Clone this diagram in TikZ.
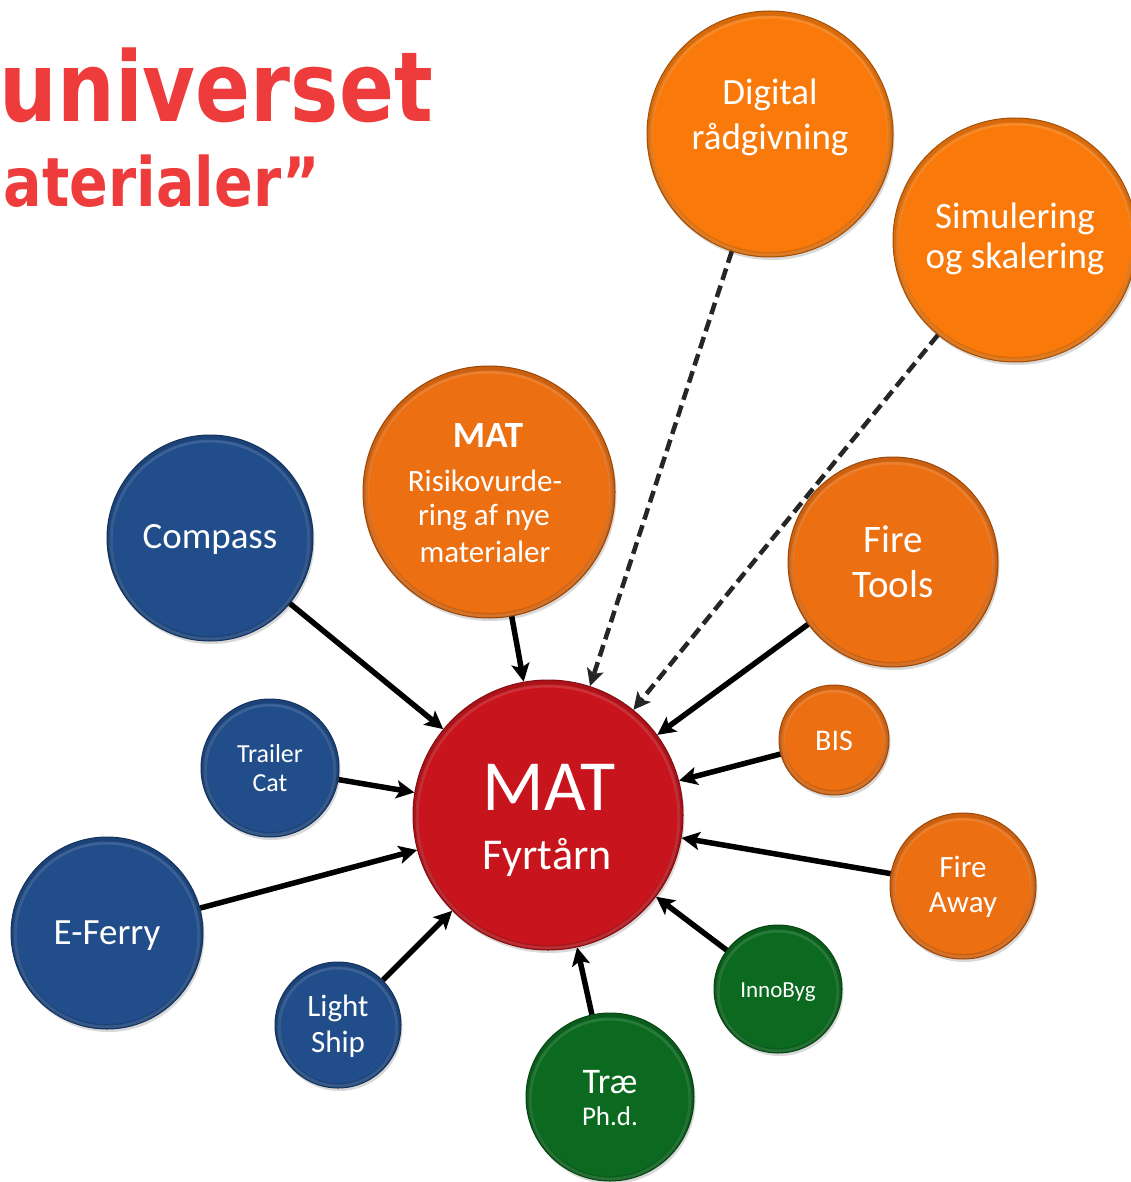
\documentclass[tikz,border=0pt]{standalone}
\usepackage{fontspec}
\setmainfont{Carlito}
\newfontfamily\titlefont{DejaVu Sans}
\usetikzlibrary{arrows.meta,shadows}
\definecolor{matred}{HTML}{C8151D}
\definecolor{orgA}{HTML}{EC6F11}
\definecolor{orgB}{HTML}{F97A0B}
\definecolor{blu}{HTML}{214D8B}
\definecolor{grn}{HTML}{0B6A1F}
\definecolor{ttlred}{HTML}{EE3B3B}
\definecolor{dashgrey}{HTML}{262626}
\tikzset{
  bubble/.style 2 args={circle, inner sep=0pt, minimum size=2*#2, fill=#1,
    draw=#1!65!black, line width=1pt,
    drop shadow={opacity=0.3, shadow xshift=1.5pt, shadow yshift=-3pt},
    path picture={\draw[black, opacity=0.13, line width=5pt]
      (path picture bounding box.center) circle[radius=#2-2.5pt];
      \draw[white, opacity=0.12, line width=3pt]
      ([yshift=-2pt]path picture bounding box.center) circle[radius=#2-4pt];}},
  txt/.style={text=white, inner sep=0pt, anchor=base},
  ttl/.style={text=ttlred, inner sep=0pt, anchor=base east, font=\titlefont\bfseries},
  conn/.style={line width=5.5pt, draw=black, -{Stealth[length=18pt,width=18pt,inset=4pt]}},
  dconn/.style={line width=4.5pt, draw=dashgrey, dash pattern=on 12pt off 6pt,
    -{Stealth[length=17pt,width=17pt,inset=4pt]}},
}
\begin{document}
\begin{tikzpicture}[x=1pt,y=-1pt]
\useasboundingbox (0,0) rectangle (1130,1182);
% title
\node[ttl] (title1) at (433,122) {\fontsize{97}{100}\selectfont\scalebox{0.836}[1]{universet}};
\node[ttl] (title2) at (320,207) {\fontsize{68}{70}\selectfont\scalebox{0.84}[1]{aterialer”}};
% bubbles
\node[bubble={matred}{135pt}] (mat) at (548,815) {};
\node[bubble={blu}{103pt}] (compass) at (210,538) {};
\node[bubble={blu}{69pt}] (trailer) at (270,768) {};
\node[bubble={blu}{96pt}] (eferry) at (107,933) {};
\node[bubble={blu}{63pt}] (light) at (338,1025) {};
\node[bubble={grn}{84pt}] (trae) at (610,1097) {};
\node[bubble={grn}{64pt}] (inno) at (778,989) {};
\node[bubble={orgA}{73pt}] (fireaway) at (963,886) {};
\node[bubble={orgA}{55pt}] (bis) at (834,740) {};
\node[bubble={orgA}{105pt}] (firetools) at (893,562) {};
\node[bubble={orgA}{126pt}] (risk) at (489,492) {};
\node[bubble={orgB}{123pt}] (digital) at (770,134) {};
\node[bubble={orgB}{122pt}] (sim) at (1015,240) {};
% texts
\node[txt] (mat-t1) at (549,810) {\fontsize{72}{80}\selectfont MAT};
\node[txt] (mat-t2) at (547,869) {\fontsize{44}{50}\selectfont Fyrtårn};
\node[txt] (compass-t) at (210,548) {\fontsize{37}{44}\selectfont Compass};
\node[txt] (trailer-t1) at (270,762) {\fontsize{26}{30}\selectfont Trailer};
\node[txt] (trailer-t2) at (270,791) {\fontsize{26}{30}\selectfont Cat};
\node[txt] (eferry-t) at (107,944) {\fontsize{37}{44}\selectfont E-Ferry};
\node[txt] (light-t1) at (338,1016) {\fontsize{31}{36}\selectfont Light};
\node[txt] (light-t2) at (338,1052) {\fontsize{31}{36}\selectfont Ship};
\node[txt] (trae-t1) at (610,1093) {\fontsize{36}{40}\selectfont Træ};
\node[txt] (trae-t2) at (610,1125) {\fontsize{27}{30}\selectfont Ph.d.};
\node[txt] (inno-t) at (778,997) {\fontsize{23}{26}\selectfont InnoByg};
\node[txt] (bis-t) at (834,750) {\fontsize{30}{34}\selectfont BIS};
\node[txt] (fireaway-t1) at (963,877) {\fontsize{31}{35}\selectfont Fire};
\node[txt] (fireaway-t2) at (963,912) {\fontsize{31}{35}\selectfont Away};
\node[txt] (firetools-t1) at (893,552) {\fontsize{39}{45}\selectfont Fire};
\node[txt] (firetools-t2) at (893,597) {\fontsize{39}{45}\selectfont Tools};
\node[txt] (digital-t1) at (770,105) {\fontsize{37}{45}\selectfont Digital};
\node[txt] (digital-t2) at (770,150) {\fontsize{37}{45}\selectfont rådgivning};
\node[txt] (sim-t1) at (1015,229) {\fontsize{37}{40}\selectfont Simulering};
\node[txt] (sim-t2) at (1015,268) {\fontsize{37}{40}\selectfont og skalering};
\node[txt] (risk-t1) at (488,447) {\fontsize{37}{40}\selectfont\bfseries MAT};
\node[txt] (risk-t2) at (485,491) {\fontsize{31}{35}\selectfont Risikovurde-};
\node[txt] (risk-t3) at (484,525) {\fontsize{31}{35}\selectfont ring af nye};
\node[txt] (risk-t4) at (485,562) {\fontsize{31}{35}\selectfont materialer};
% connectors
\draw[conn] (compass) -- (mat);
\draw[conn] (trailer) -- (mat);
\draw[conn] (eferry) -- (mat);
\draw[conn] (light) -- (mat);
\draw[conn] (trae) -- (mat);
\draw[conn] (inno) -- (mat);
\draw[conn] (fireaway) -- (mat);
\draw[conn] (bis) -- (mat);
\draw[conn] (firetools) -- (mat);
\draw[conn] (risk) -- (mat);
\draw[dconn] (digital) -- (mat);
\draw[dconn] (sim) -- (mat);
\end{tikzpicture}
\end{document}
